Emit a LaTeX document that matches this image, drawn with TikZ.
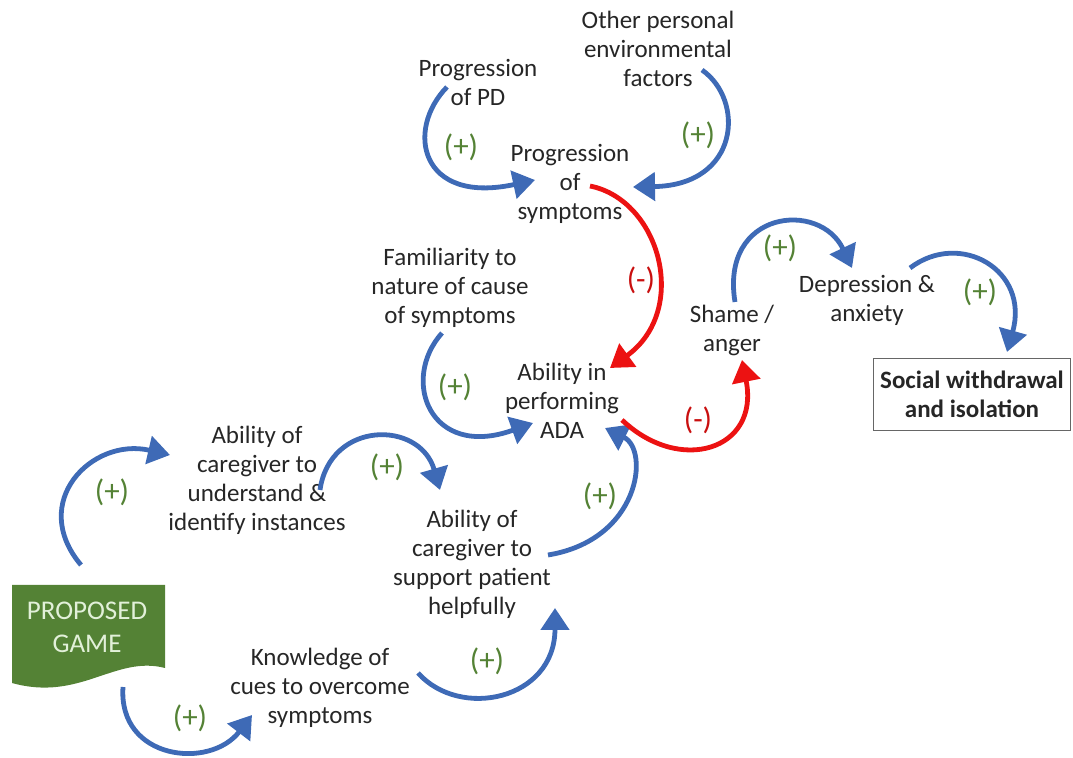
\documentclass[tikz,border=0pt]{standalone}
\usepackage{fontspec}
\setmainfont{Carlito}
\usetikzlibrary{arrows.meta}
\definecolor{loopblue}{RGB}{62,106,182}
\definecolor{loopred}{RGB}{236,18,18}
\definecolor{signgreen}{RGB}{84,130,53}
\definecolor{gamegreen}{RGB}{84,130,53}
\definecolor{gametext}{RGB}{226,240,217}

\begin{document}
\begin{tikzpicture}[x=0.5pt,y=-0.5pt,
    factor/.style={align=center,font=\fontsize{12.5}{14.5}\selectfont,text=black!85},
    possign/.style={text=signgreen,font=\fontsize{15.5}{17}\selectfont},
    negsign/.style={text=loopred!85!black,font=\fontsize{15.5}{17}\selectfont},
    link/.style={draw=loopblue,line width=2.4pt,-{Triangle[width=14pt,length=11pt]}},
    redlink/.style={link,draw=loopred}]
    \useasboundingbox (0,0) rectangle (1073,758);

    % the factors
    \node[factor] (other) at (658,49) {Other personal\\environmental\\factors};
    \node[factor] (pd) at (478,82) {Progression\\of PD};
    \node[factor] (sym) at (570,184) {Progression\\of\\symptoms};
    \node[factor] (fam) at (450,288) {Familiarity to\\nature of cause\\of symptoms};
    \node[factor] (ada) at (562,401) {Ability in\\performing\\ADA};
    \node[factor] (shame) at (732,330) {Shame /\\anger};
    \node[factor] (dep) at (867,300) {Depression \&\\anxiety};
    \node[factor] (under) at (257,480) {Ability of\\caregiver to\\understand \&\\identify instances};
    \node[factor] (support) at (472,564) {Ability of\\caregiver to\\support patient\\helpfully};
    \node[factor] (know) at (320,688) {Knowledge of\\cues to overcome\\symptoms};

    % outcome box
    \node[factor,draw=black!60,font=\bfseries\fontsize{12.5}{14.5}\selectfont,
          minimum width=98.5pt,minimum height=36pt] (social) at (972,394)
          {Social withdrawal\\and isolation};

    % the game (document shape)
    \fill[gamegreen] (12,585) -- (165,585) -- (165,668)
        .. controls (115,655) and (80,702) .. (12,683) -- cycle;
    \node[align=center,text=gametext,font=\fontsize{13.5}{16.5}\selectfont] (game) at (87,627) {PROPOSED\\GAME};

    % blue links
    \draw[link] ([shift={(-31,5)}]pd.center) .. controls +(-42,43) and +(-115,25) .. ([shift={(-35,-4)}]sym.center);
    \draw[link] ([shift={(44,21)}]other.center) .. controls +(43,30) and +(107,-2) .. ([shift={(63,3)}]sym.center);
    \draw[link] ([shift={(-8,45)}]fam.center) .. controls +(-42,47) and +(-103,37) .. ([shift={(-29,22)}]ada.center);
    \draw[link] ([shift={(3,-28)}]shame.center) .. controls +(-15,-92) and +(-32,-68) .. ([shift={(-15,-32)}]dep.center);
    \draw[link] ([shift={(43,-32)}]dep.center) .. controls +(50,-38) and +(23,-82) .. ([shift={(35,-42)}]social.center);
    \draw[link] ([shift={(-6,-62)}]game.center) .. controls +(-53,-63) and +(-78,-18) .. ([shift={(-87,-25)}]under.center);
    \draw[link] ([shift={(63,10)}]under.center) .. controls +(10,-70) and +(-20,-70) .. ([shift={(-32,-74)}]support.center);
    \draw[link] ([shift={(76,-9)}]support.center) .. controls +(92,-15) and +(45,22) .. ([shift={(43,27)}]ada.center);
    \draw[link] ([shift={(36,60)}]game.center) .. controls +(-5,73) and +(-42,55) .. ([shift={(-68,27)}]know.center);
    \draw[link] ([shift={(98,-15)}]know.center) .. controls +(42,47) and +(0,92) .. ([shift={(83,44)}]support.center);

    % red links
    \draw[redlink] ([shift={(20,2)}]sym.center) .. controls +(70,14) and +(80,-58) .. ([shift={(48,-33)}]ada.center);
    \draw[redlink] ([shift={(60,19)}]ada.center) .. controls +(58,55) and +(18,90) .. ([shift={(10,30)}]shame.center);

    % signs
    \node[possign] (s1) at (461,147) {(+)};
    \node[possign] (s2) at (698,135) {(+)};
    \node[negsign] (s3) at (641,280) {(-)};
    \node[possign] (s4) at (455,387) {(+)};
    \node[negsign] (s5) at (698,420) {(-)};
    \node[possign] (s6) at (780,248) {(+)};
    \node[possign] (s7) at (980,292) {(+)};
    \node[possign] (s8) at (112,492) {(+)};
    \node[possign] (s9) at (387,467) {(+)};
    \node[possign] (s10) at (600,496) {(+)};
    \node[possign] (s11) at (190,718) {(+)};
    \node[possign] (s12) at (487,661) {(+)};
\end{tikzpicture}
\end{document}
